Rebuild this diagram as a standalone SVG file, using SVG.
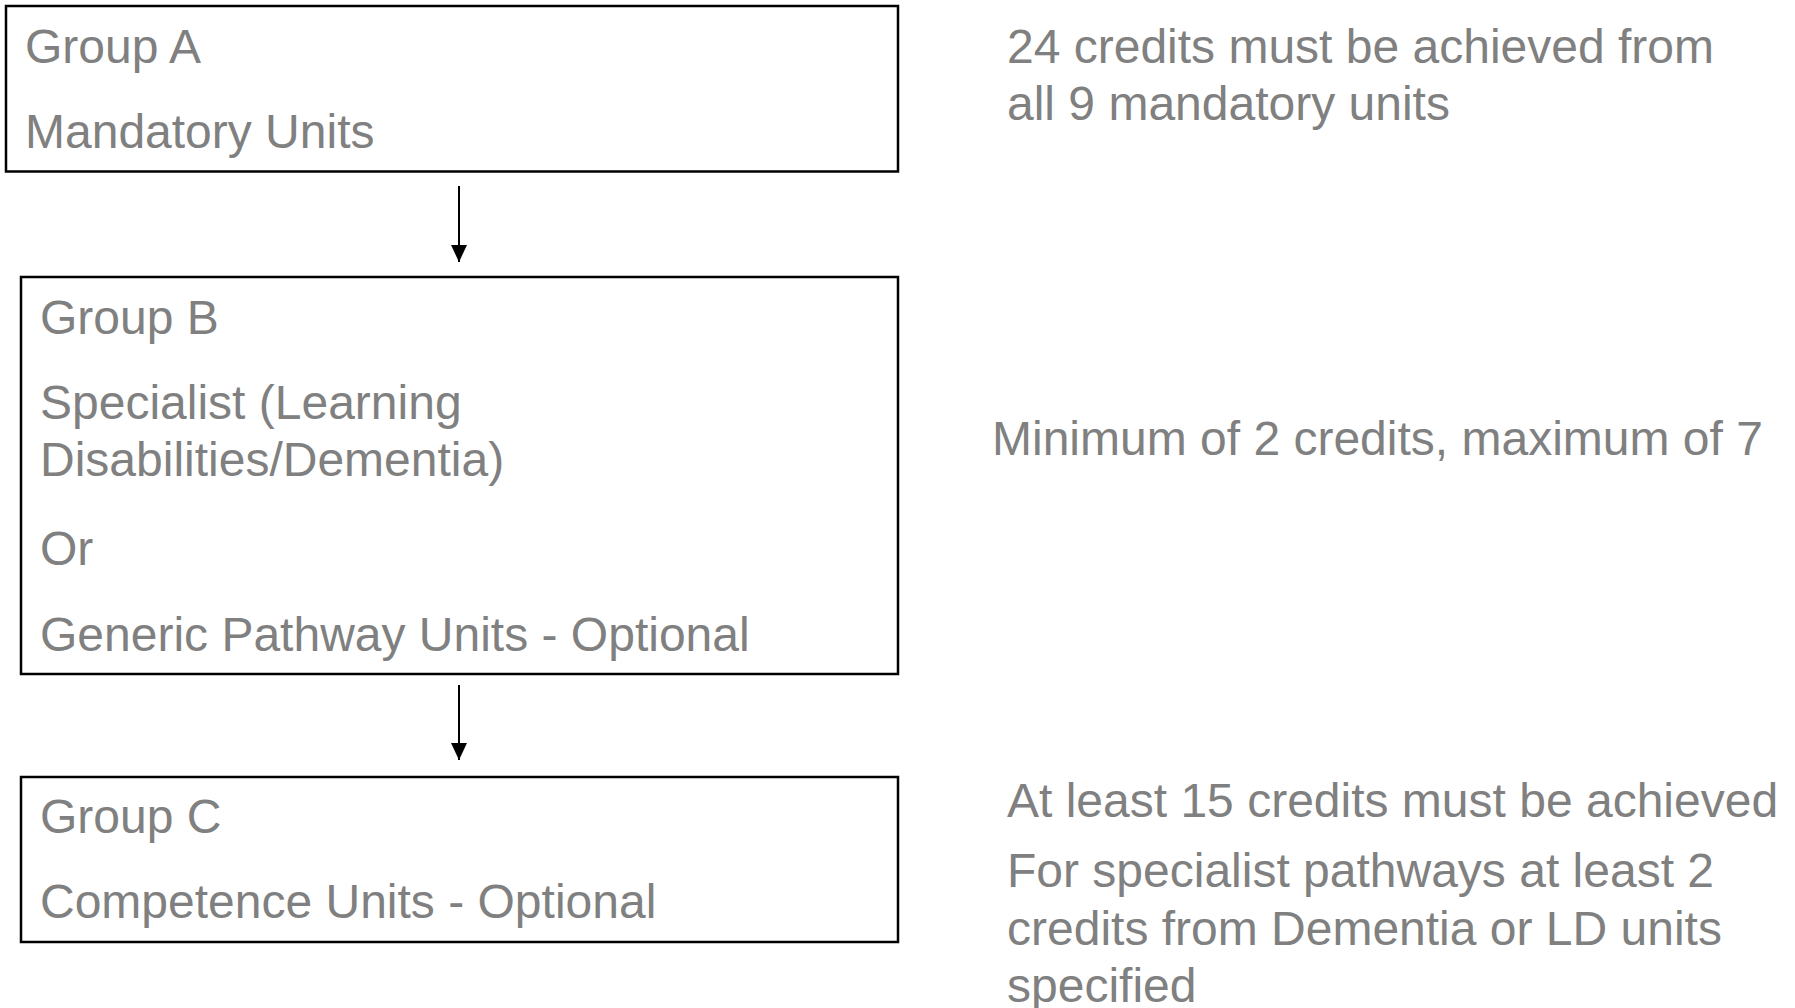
<svg xmlns="http://www.w3.org/2000/svg" width="1795" height="1008" viewBox="0 0 1795 1008">
<style>
.box{fill:#fff;stroke:#000;stroke-width:2.5}
text{font-family:'Liberation Sans',Arimo,Arial,Helvetica,sans-serif;font-size:48px;fill:#808080}
.c{stroke:#000;stroke-width:2;fill:none}
</style>
<defs>
<marker id="ah" markerWidth="17" markerHeight="16" refX="17" refY="8" orient="auto" markerUnits="userSpaceOnUse" viewBox="0 0 17 16">
<path d="M0,0 L17,8 L0,16 Z" fill="#000"/>
</marker>
</defs>
<rect width="1795" height="1008" fill="#fff"/>
<g id="groupA">
<rect class="box" x="6" y="6" width="892" height="165.5"/>
<text x="25" y="63">Group A</text>
<text x="25" y="148">Mandatory Units</text>
</g>
<g id="groupB">
<rect class="box" x="21" y="277" width="877" height="397"/>
<text x="40" y="334">Group B</text>
<text x="40" y="419">Specialist (Learning</text>
<text x="40" y="476">Disabilities/Dementia)</text>
<text x="40" y="565">Or</text>
<text x="40" y="651">Generic Pathway Units - Optional</text>
</g>
<g id="groupC">
<rect class="box" x="21" y="777" width="877" height="165"/>
<text x="40" y="833">Group C</text>
<text x="40" y="918">Competence Units - Optional</text>
</g>
<g id="noteA">
<text x="1007" y="63">24 credits must be achieved from</text>
<text x="1007" y="120">all 9 mandatory units</text>
</g>
<g id="noteB">
<text x="992" y="455">Minimum of 2 credits, maximum of 7</text>
</g>
<g id="noteC">
<text x="1007" y="817">At least 15 credits must be achieved</text>
<text x="1007" y="887">For specialist pathways at least 2</text>
<text x="1007" y="945">credits from Dementia or LD units</text>
<text x="1007" y="1002">specified</text>
</g>
<g id="connectors">
<line class="c" x1="459" y1="186" x2="459" y2="262" marker-end="url(#ah)"/>
<line class="c" x1="459" y1="685" x2="459" y2="760" marker-end="url(#ah)"/>
</g>
</svg>
